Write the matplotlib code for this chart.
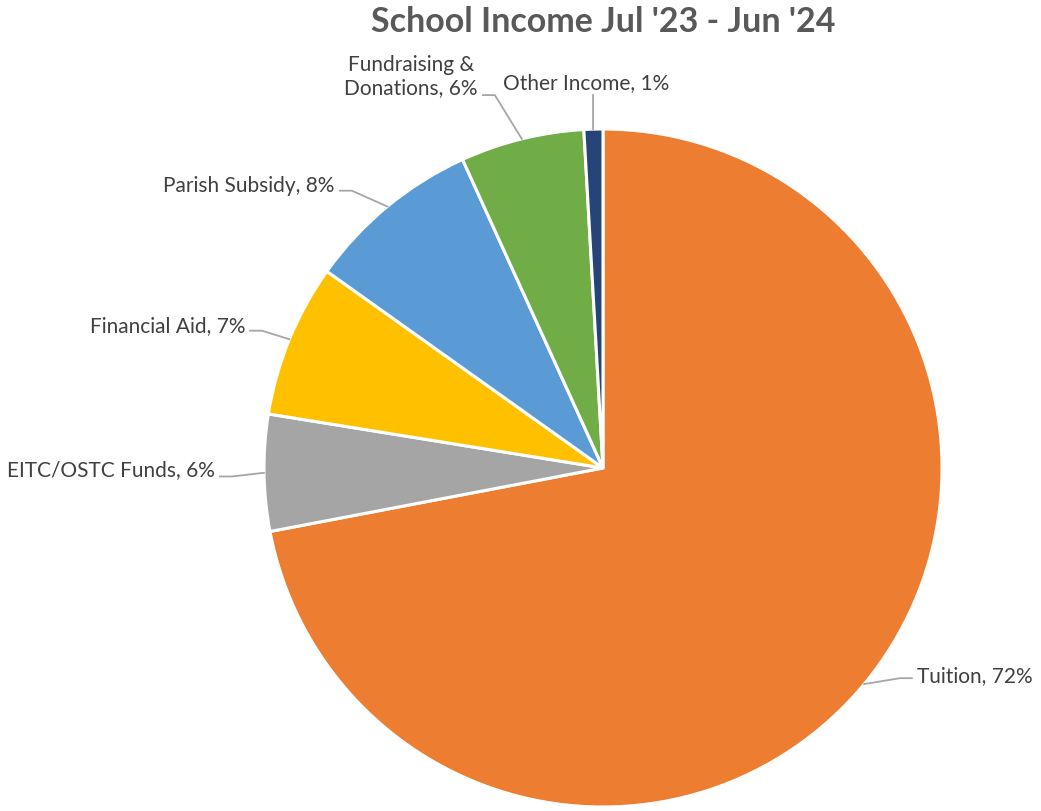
import numpy as np
import matplotlib.pyplot as plt

plt.rcParams['font.family'] = ['Lato', 'DejaVu Sans']

labels = ["Tuition", "EITC/OSTC Funds", "Financial Aid", "Parish Subsidy",
          "Fundraising &\nDonations", "Other Income"]
values = [72.0, 5.55, 7.3, 8.35, 5.9, 0.9]
colors = ["#ED7D31", "#A5A5A5", "#FFC000", "#5B9BD5", "#70AD47", "#264478"]

# label text anchors (axes data units), alignment, and leader-line end height
label_pos = [(0.926, -0.614), (-1.145, -0.006), (-1.056, 0.419),
             (-0.791, 0.832), (-0.369, 1.155), (-0.295, 1.136)]
label_ha = ["left", "right", "right", "right", "right", "left"]
leader_y = [-0.62, -0.025, 0.405, 0.818, 1.10, 1.10]

W, H = 1041, 811
fig = plt.figure(figsize=(W / 100, H / 100), dpi=100)
cx, cy, r = 603, 468, 339
ax = fig.add_axes([(cx - r) / W, (H - cy - r) / H, 2 * r / W, 2 * r / H])

wedges, _ = ax.pie(values, colors=colors, startangle=90, counterclock=False,
                   radius=1, wedgeprops=dict(edgecolor="white", linewidth=2.2))
ax.set_xlim(-1, 1)
ax.set_ylim(-1, 1)
ax.set_aspect("equal")
ax.axis("off")

total = sum(values)
for i, w in enumerate(wedges):
    tx, ty = label_pos[i]
    ha = label_ha[i]
    ang = np.deg2rad((w.theta1 + w.theta2) / 2)
    ex, ey = np.cos(ang), np.sin(ang)
    text = f"{labels[i]}, {round(values[i] / total * 100):.0f}%"
    ly = leader_y[i]
    if i == len(wedges) - 1:
        # short vertical leader for the tiny slice
        ax.plot([ex, ex], [ey, ly], color="#A6A6A6", lw=1.3, clip_on=False)
    else:
        sgn = 1 if ha == "left" else -1
        lx = tx - sgn * 0.015
        ax.plot([ex, lx - sgn * 0.035, lx], [ey, ly, ly], color="#A6A6A6",
                lw=1.3, clip_on=False)
    ax.text(tx, ty, text, ha=ha, va="center", fontsize=15, color="#404040",
            multialignment="center", linespacing=1.2)

fig.text(cx / W, 1 - 22 / H, "School Income Jul '23 - Jun '24", ha="center",
         va="center", fontsize=24.5, fontweight="bold", color="#595959")

fig.savefig("out.png", dpi=100)
